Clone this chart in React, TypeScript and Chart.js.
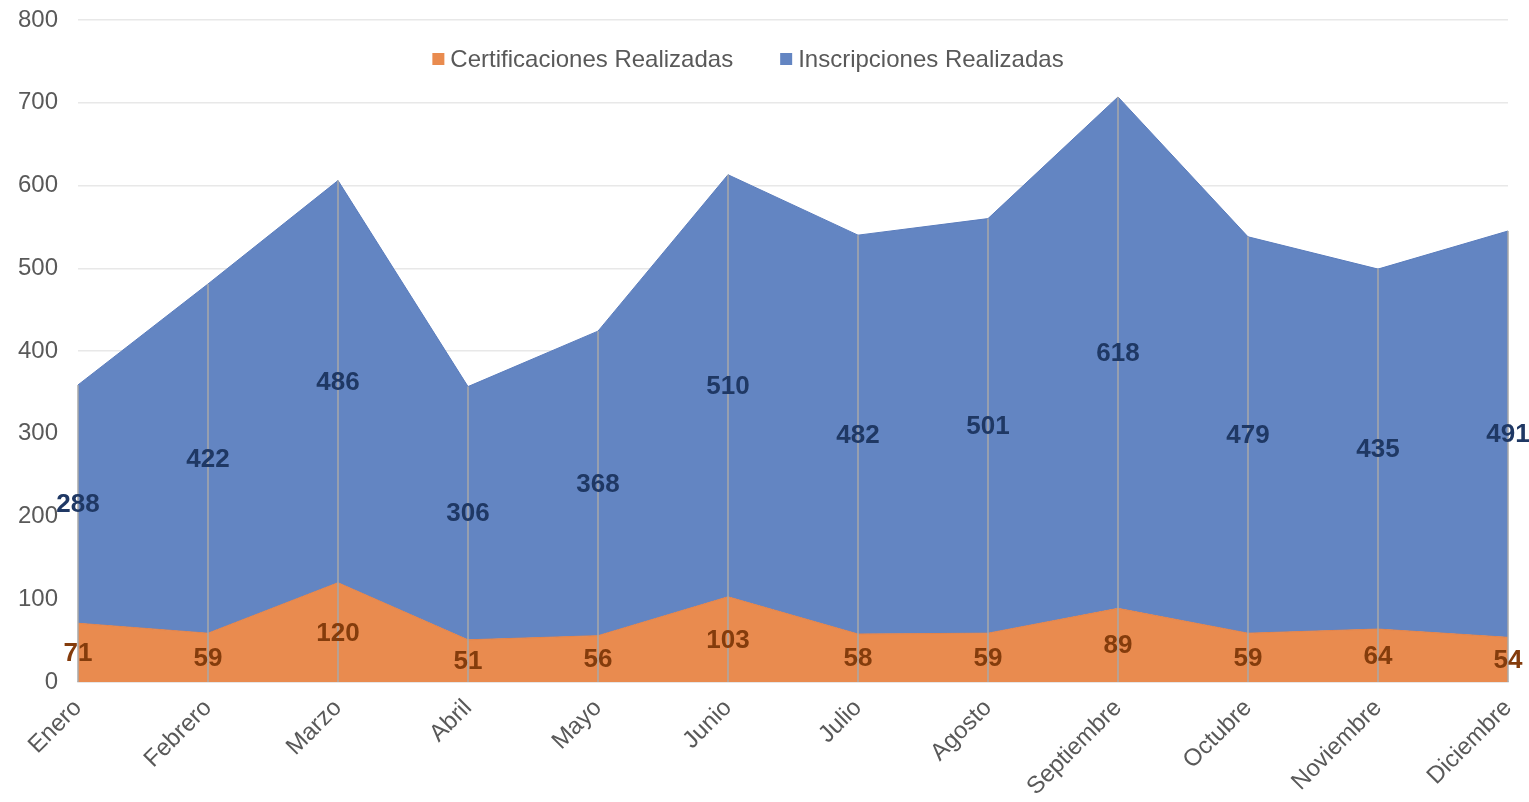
import React, { useEffect, useRef } from "react";
import { Chart, registerables } from "chart.js";

Chart.register(...registerables);

const months = ["Enero", "Febrero", "Marzo", "Abril", "Mayo", "Junio", "Julio", "Agosto", "Septiembre", "Octubre", "Noviembre", "Diciembre"];
const certificaciones = [71, 59, 120, 51, 56, 103, 58, 59, 89, 59, 64, 54];
const inscripciones = [288, 422, 486, 306, 368, 510, 482, 501, 618, 479, 435, 491];
const seriesNames = ["Certificaciones Realizadas", "Inscripciones Realizadas"];

const ORANGE = "#e98b4f";
const BLUE = "#6385c2";
const FONT = "'Liberation Sans', Arial, sans-serif";

const overlayPlugin = {
  id: "overlay",
  afterDatasetsDraw(chart: any) {
    const ctx = chart.ctx;
    const xs = chart.scales.x;
    const ys = chart.scales.y;
    ctx.save();
    // drop lines
    ctx.strokeStyle = "#a9a9a9";
    ctx.lineWidth = 1.5;
    months.forEach((_, i) => {
      const x = xs.getPixelForValue(i);
      ctx.beginPath();
      ctx.moveTo(x, ys.getPixelForValue(0));
      ctx.lineTo(x, ys.getPixelForValue(certificaciones[i] + inscripciones[i]));
      ctx.stroke();
    });
    // data labels
    ctx.font = `bold 26px ${FONT}`;
    ctx.textAlign = "center";
    ctx.textBaseline = "middle";
    months.forEach((_, i) => {
      const x = xs.getPixelForValue(i);
      ctx.fillStyle = "#843c0c";
      ctx.fillText(String(certificaciones[i]), x, ys.getPixelForValue(certificaciones[i] / 2) + 1);
      ctx.fillStyle = "#1f3864";
      ctx.fillText(String(inscripciones[i]), x, ys.getPixelForValue(certificaciones[i] + inscripciones[i] / 2) + 1);
    });
    // legend
    ctx.font = `24px ${FONT}`;
    ctx.textAlign = "left";
    const box = 12;
    const gap = 6;
    const between = 47;
    const w0 = ctx.measureText(seriesNames[0]).width;
    const w1 = ctx.measureText(seriesNames[1]).width;
    const total = box + gap + w0 + between + box + gap + w1;
    let x = 748 - total / 2;
    const y = 59;
    const cols = [ORANGE, BLUE];
    [w0, w1].forEach((w, k) => {
      ctx.fillStyle = cols[k];
      ctx.fillRect(x, y - box / 2, box, box);
      x += box + gap;
      ctx.fillStyle = "#595959";
      ctx.fillText(seriesNames[k], x, y + 1);
      x += w + between;
    });
    ctx.restore();
  },
};

export default function App() {
  const ref = useRef<HTMLCanvasElement | null>(null);
  useEffect(() => {
    if (!ref.current) return;
    const chart = new Chart(ref.current, {
      type: "line",
      data: {
        labels: months,
        datasets: [
          {
            label: seriesNames[0],
            data: certificaciones,
            backgroundColor: ORANGE,
            borderColor: "#e4844a",
            borderWidth: 1,
            fill: "origin",
            pointRadius: 0,
            tension: 0,
          },
          {
            label: seriesNames[1],
            data: inscripciones,
            backgroundColor: BLUE,
            borderColor: "#5b7dbd",
            borderWidth: 1,
            fill: "-1",
            pointRadius: 0,
            tension: 0,
          },
        ],
      },
      options: {
        animation: false,
        responsive: true,
        maintainAspectRatio: false,
        layout: { padding: { top: 0, right: 21, left: 0, bottom: 0 } },
        plugins: {
          legend: { display: false },
          tooltip: { enabled: false },
        },
        scales: {
          x: {
            offset: false,
            grid: { display: false },
            border: { display: true, color: "#d9d9d9", width: 1.5 },
            ticks: {
              minRotation: 45,
              maxRotation: 45,
              autoSkip: false,
              color: "#595959",
              font: { family: FONT, size: 24 },
              padding: 4,
            },
            afterFit(scale: any) {
              scale.height = 120;
              scale.paddingRight = 0;
              scale.paddingLeft = 0;
            },
          },
          y: {
            stacked: true,
            min: 0,
            max: 800,
            grid: { color: "#e8e8e8", lineWidth: 1.5, drawTicks: false },
            border: { display: false },
            ticks: {
              stepSize: 100,
              color: "#595959",
              font: { family: FONT, size: 24 },
              padding: 20,
            },
            afterFit(scale: any) {
              scale.width = 78;
              scale.paddingTop = 20;
            },
          },
        },
      },
      plugins: [overlayPlugin],
    });
    return () => chart.destroy();
  }, []);
  return (
    <div style={{ position: "fixed", left: 0, top: 0, width: 1529, height: 802, background: "#fff" }}>
      <canvas ref={ref} />
    </div>
  );
}
